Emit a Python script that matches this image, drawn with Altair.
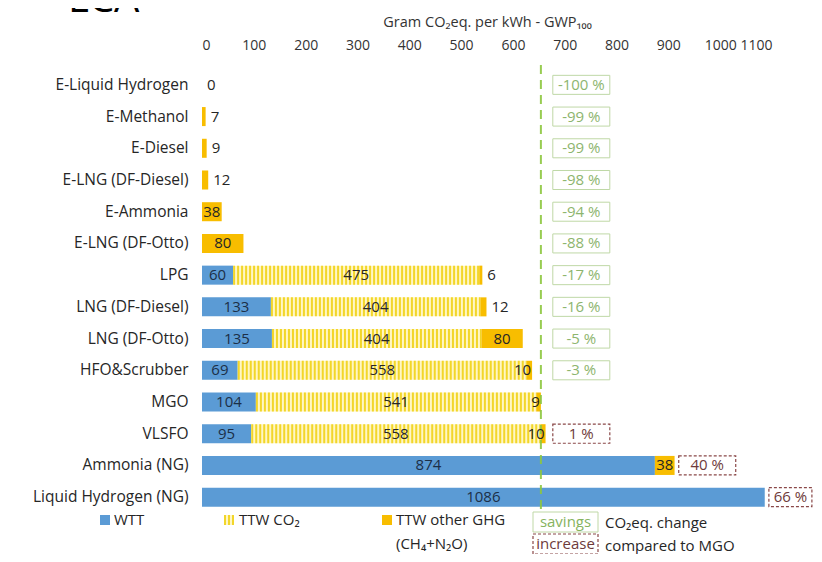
import altair as alt
import pandas as pd

# ---------------- data ----------------
fuels = [
    "E-Liquid Hydrogen", "E-Methanol", "E-Diesel", "E-LNG (DF-Diesel)",
    "E-Ammonia", "E-LNG (DF-Otto)", "LPG", "LNG (DF-Diesel)", "LNG (DF-Otto)",
    "HFO&Scrubber", "MGO", "VLSFO", "Ammonia (NG)", "Liquid Hydrogen (NG)",
]
wtt = [0, 0, 0, 0, 0, 0, 60, 133, 135, 69, 104, 95, 874, 1086]
ttw_co2 = [0, 0, 0, 0, 0, 0, 475, 404, 404, 558, 541, 558, 0, 0]
ttw_other = [0, 7, 9, 12, 38, 80, 6, 12, 80, 10, 9, 10, 38, 0]
change_pct = [-100, -99, -99, -98, -94, -88, -17, -16, -5, -3, None, 1, 40, 66]
x_ticks = [0, 100, 200, 300, 400, 500, 600, 700, 800, 900, 1000, 1100]
reference_fuel = "MGO"

segment_names = ["WTT", "TTW CO₂", "TTW other GHG"]
segment_colors = ["#5B9BD5", "#FFF6C4", "#F8BD00"]
stripe_color = "#F2D62A"

FONT = "Open Sans"
W, H = 570, 444
BAND = 19

# ---------------- derived tables ----------------
totals = [w + c + o for w, c, o in zip(wtt, ttw_co2, ttw_other)]
ref_total = totals[fuels.index(reference_fuel)]

seg_rows, lab_w, lab_c, lab_l, lab_r, pct_rows = [], [], [], [], [], []
for f, w, c, o, t, p in zip(fuels, wtt, ttw_co2, ttw_other, totals, change_pct):
    bounds = [0, w, w + c, t]
    for name, a, b, v in zip(segment_names, bounds[:-1], bounds[1:], [w, c, o]):
        if v > 0:
            seg_rows.append(dict(fuel=f, seg=name, start=a, end=b))
    if w > 0:
        lab_w.append(dict(fuel=f, x=w / 2, label=str(w)))
    if c > 0:
        lab_c.append(dict(fuel=f, x=w + c / 2, label=str(c)))
    if o >= 30:
        lab_c.append(dict(fuel=f, x=w + c + o / 2, label=str(o)))
    elif t == 0 or (o > 0 and t < 600):
        lab_l.append(dict(fuel=f, x=t, label=str(o)))
    elif o > 0:
        lab_r.append(dict(fuel=f, x=t, label=str(o)))
    if p is not None:
        left = max(t + 8, 677)
        right = min(left + 110, 1177)
        pct_rows.append(dict(fuel=f, left=left, right=right, mid=(left + right) / 2,
                             label=f"{p} %", kind="savings" if p < 0 else "increase"))

segs = pd.DataFrame(seg_rows)
labw = pd.DataFrame(lab_w)
labc = pd.DataFrame(lab_c)
labl = pd.DataFrame(lab_l)
labr = pd.DataFrame(lab_r)
pcts = pd.DataFrame(pct_rows)
refdf = pd.DataFrame({"fuel": [reference_fuel], "total": [ref_total]})

# ---------------- shared encodings ----------------
xscale = alt.Scale(domain=[0, 1100], nice=False, zero=True)
xaxis = alt.Axis(orient="top", values=x_ticks, title="Gram CO₂eq. per kWh - GWP₁₀₀",
                 grid=False, ticks=False, tickSize=0, domain=False, format="d",
                 labelFont=FONT, labelFontSize=14, labelColor="#333333", labelPadding=17,
                 titleFont=FONT, titleFontSize=14.5, titleFontWeight="normal",
                 titleColor="#333333", titlePadding=9)
yscale = alt.Scale(domain=fuels, paddingInner=0.4, paddingOuter=0.2)
yaxis = alt.Axis(title=None, ticks=False, domain=False, labelFont=FONT,
                 labelFontSize=15.5, labelColor="#262626", labelPadding=14, labelLimit=300)


def X(field):
    return alt.X(f"{field}:Q", scale=xscale, axis=xaxis)


def Y():
    return alt.Y("fuel:N", sort=fuels, scale=yscale, axis=yaxis)


bars = alt.Chart(segs).mark_bar().encode(
    x=X("start"), x2="end", y=Y(),
    color=alt.Color("seg:N", scale=alt.Scale(domain=segment_names, range=segment_colors), legend=None),
)

stripes = alt.Chart(segs[segs.seg == "TTW CO₂"]).mark_rule(
    strokeWidth=BAND, strokeDash=[2, 2], color=stripe_color, strokeCap="butt"
).encode(x=X("start"), x2="end", y=Y())

refline = alt.Chart(refdf).mark_rule(
    color="#8DC63F", strokeWidth=2, strokeDash=[9, 6], opacity=0.9
).encode(x=X("total"), y=alt.value(-4), y2=alt.value(H + 10))

txt_w = alt.Chart(labw).mark_text(font=FONT, fontSize=15, baseline="middle", align="center",
                                  color="#1C2F47").encode(x=X("x"), y=Y(), text="label:N")
txt_c = alt.Chart(labc).mark_text(font=FONT, fontSize=15, baseline="middle", align="center",
                                  color="#262626").encode(x=X("x"), y=Y(), text="label:N")
txt_l = alt.Chart(labl).mark_text(font=FONT, fontSize=15, baseline="middle", align="left", dx=5,
                                  color="#262626").encode(x=X("x"), y=Y(), text="label:N")
txt_r = alt.Chart(labr).mark_text(font=FONT, fontSize=15, baseline="middle", align="right", dx=-1,
                                  color="#262626").encode(x=X("x"), y=Y(), text="label:N")

sav = pcts[pcts.kind == "savings"]
inc = pcts[pcts.kind == "increase"]
box_s = alt.Chart(sav).mark_rect(fill="white", stroke="#BFD8A6", strokeWidth=1).encode(
    x=X("left"), x2="right", y=Y())
box_i = alt.Chart(inc).mark_rect(fill="white", stroke="#8A4848", strokeWidth=1.2, strokeDash=[3, 2]).encode(
    x=X("left"), x2="right", y=Y())
pt_s = alt.Chart(sav).mark_text(font=FONT, fontSize=15, baseline="middle", color="#8DB56E").encode(
    x=X("mid"), y=Y(), text="label:N")
pt_i = alt.Chart(inc).mark_text(font=FONT, fontSize=15, baseline="middle", color="#6E3A3A").encode(
    x=X("mid"), y=Y(), text="label:N")

# ---------------- hand-built legend ----------------
dummy = pd.DataFrame({"k": [0]})


def lg_text(txt, x, y, color="#262626", size=15):
    return alt.Chart(dummy).mark_text(text=txt, align="left", baseline="middle", font=FONT,
                                      fontSize=size, color=color).encode(x=alt.value(x), y=alt.value(y))


def lg_rect(x, x2, y, y2, **kw):
    return alt.Chart(dummy).mark_rect(**kw).encode(
        x=alt.value(x), x2=alt.value(x2), y=alt.value(y), y2=alt.value(y2))


r1, r2 = 451, 475
legend = [
    lg_rect(-102, -92, r1 - 5, r1 + 5, fill=segment_colors[0]),
    lg_text("WTT", -88, r1),
    lg_rect(22, 32, r1 - 5, r1 + 5, fill=segment_colors[1]),
    alt.Chart(dummy).mark_rule(strokeWidth=10, strokeDash=[2, 2], color=stripe_color, strokeCap="butt").encode(
        x=alt.value(22), x2=alt.value(32), y=alt.value(r1)),
    lg_text("TTW CO₂", 37, r1),
    lg_rect(180, 190, r1 - 5, r1 + 5, fill=segment_colors[2]),
    lg_text("TTW other GHG", 194, r1),
    lg_text("(CH₄+N₂O)", 194, r2),
    lg_rect(331, 396, 443, 463, fill="white", stroke="#BFD8A6", strokeWidth=1),
    lg_rect(331, 396, 465, 485, fill="white", stroke="#8A4848", strokeWidth=1.2, strokeDash=[3, 2]),
    alt.Chart(dummy).mark_text(text="savings", font=FONT, fontSize=15, baseline="middle", align="center",
                               color="#86B35E").encode(x=alt.value(363.5), y=alt.value(453)),
    alt.Chart(dummy).mark_text(text="increase", font=FONT, fontSize=15, baseline="middle", align="center",
                               color="#6E3A3A").encode(x=alt.value(363.5), y=alt.value(475)),
    lg_text("CO₂eq. change", 403, 454),
    lg_text("compared to MGO", 403, 477),
    alt.Chart(dummy).mark_text(text="LCA", font=FONT, fontSize=40, align="left", baseline="alphabetic",
                               color="#000000").encode(x=alt.value(-134), y=alt.value(-57)),
]

chart = alt.layer(
    bars, stripes, refline, txt_w, txt_c, txt_l, txt_r, box_s, box_i, pt_s, pt_i, *legend
).properties(
    width=W, height=H,
    autosize=alt.AutoSizeParams(type="none"),
    padding={"left": 194, "top": 61, "right": 42, "bottom": 41},
).configure_view(stroke=None)

chart.save("out.html", embed_options={"renderer": "svg", "actions": False})
